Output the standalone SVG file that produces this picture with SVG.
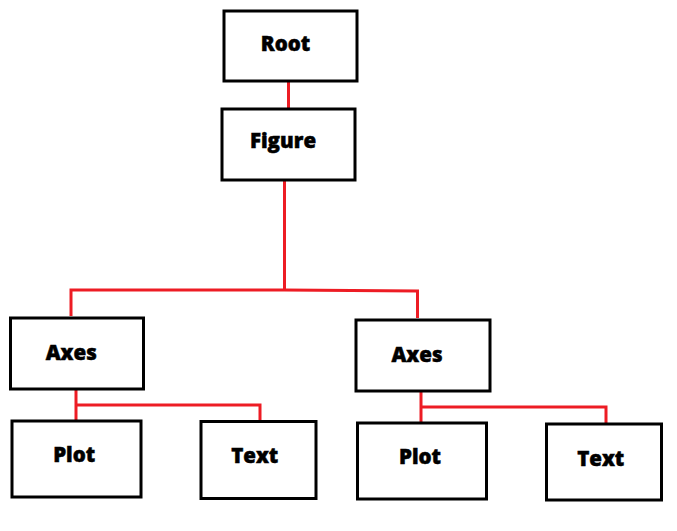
<svg xmlns="http://www.w3.org/2000/svg" width="677" height="531" viewBox="0 0 677 531">
<style>
.box{fill:#fff;stroke:#000;stroke-width:3}
.lbl{font-family:"Open Sans","DejaVu Sans",sans-serif;font-weight:800;font-size:20.5px;fill:#000;stroke:#000;stroke-width:0.5;text-anchor:middle}
.con{fill:none;stroke:#ed1c24;stroke-width:3}
</style>
<rect width="677" height="531" fill="#fff"/>
<g id="connectors">
<line class="con" x1="288.5" y1="82" x2="288.5" y2="108"/>
<polyline class="con" points="284.5,181 284.5,291"/>
<polyline class="con" points="71,316 71,290 284.5,290 417.5,291 417.5,318"/>
<polyline class="con" points="76,390 76,421"/>
<polyline class="con" points="76,405 260,405 260,420"/>
<polyline class="con" points="421,392 421,423"/>
<polyline class="con" points="421,407 606,407 606,423"/>
</g>
<g id="root"><rect class="box" x="224" y="11" width="133" height="70"/><text class="lbl" x="285.5" y="51">Root</text></g>
<g id="figure"><rect class="box" x="222" y="109" width="133" height="71"/><text class="lbl" x="283" y="147.5">Figure</text></g>
<g id="axes1"><rect class="box" x="10.5" y="318" width="133" height="71"/><text class="lbl" x="71.2" y="360">Axes</text></g>
<g id="axes2"><rect class="box" x="356" y="320" width="134" height="71"/><text class="lbl" x="417" y="361.7">Axes</text></g>
<g id="plot1"><rect class="box" x="12" y="421" width="129" height="76"/><text class="lbl" x="74.2" y="461.7">Plot</text></g>
<g id="text1"><rect class="box" x="201" y="421.5" width="115" height="77"/><text class="lbl" x="254.7" y="463.3">Text</text></g>
<g id="plot2"><rect class="box" x="357.5" y="423" width="129" height="76"/><text class="lbl" x="420" y="464">Plot</text></g>
<g id="text2"><rect class="box" x="546.5" y="424" width="115" height="76"/><text class="lbl" x="600.7" y="465.7">Text</text></g>
</svg>
